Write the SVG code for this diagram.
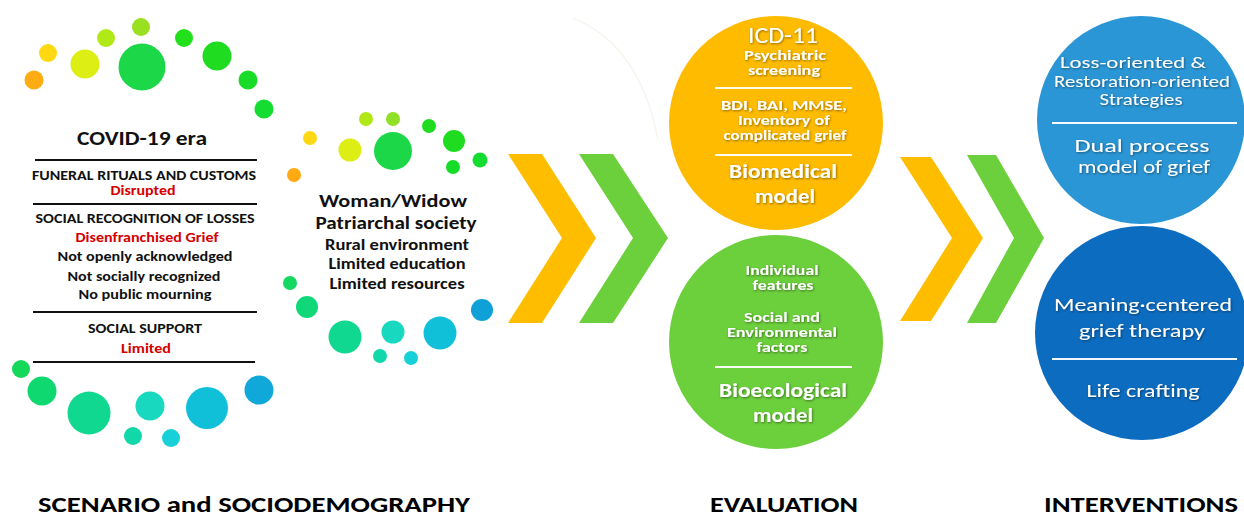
<svg xmlns="http://www.w3.org/2000/svg" width="1244" height="518" viewBox="0 0 1244 518">
  <defs>
    <filter id="txtShadow" x="-10%" y="-30%" width="120%" height="160%">
      <feDropShadow dx="0.8" dy="1" stdDeviation="0.8" flood-color="#000" flood-opacity="0.45"/>
    </filter>
  </defs>
  <style>
    text { font-family: Carlito, Lato, "Open Sans", "Liberation Sans", sans-serif; text-anchor: middle; }
    .dk { fill: #111; font-weight: 700; }
    .red { fill: #d40000; font-weight: 700; }
    .wt { fill: #fff; filter: url(#txtShadow); }
    .b { font-weight: 700; }
    .sm { font-size: 13.5px; }
    .rule { stroke: #111; stroke-width: 2; }
    .wrule { stroke: #fff; stroke-width: 2; opacity: 0.95; }
    .foot { fill: #000; font-weight: 700; font-size: 22px; }
  </style>
  <rect width="1244" height="518" fill="#fff"/>

  <!-- faint decorative arc -->
  <path d="M573,18 Q640,45 658,140" fill="none" stroke="#f6f2ea" stroke-width="1.2"/>

  <!-- scenario block: dot ring and text list -->
  <g id="scenario">
    <g id="scenario-dots-top">
      <circle cx="34" cy="80" r="9.5" fill="#ffab12"/>
      <circle cx="48" cy="53" r="9" fill="#ffd814"/>
      <circle cx="85" cy="64" r="14.5" fill="#dcee14"/>
      <circle cx="106" cy="38" r="9" fill="#b0e818"/>
      <circle cx="141" cy="27" r="9" fill="#98e020"/>
      <circle cx="142" cy="67" r="23.5" fill="#1cd848"/>
      <circle cx="184" cy="38" r="9" fill="#22e01c"/>
      <circle cx="217" cy="56" r="14.5" fill="#20dc20"/>
      <circle cx="248" cy="80" r="9.5" fill="#18dc28"/>
      <circle cx="264" cy="109" r="9.5" fill="#14dc30"/>
    </g>
    <g id="scenario-dots-bottom">
      <circle cx="21" cy="369" r="9" fill="#14d85a"/>
      <circle cx="42" cy="391" r="14.5" fill="#10d870"/>
      <circle cx="89" cy="413" r="21.5" fill="#10d890"/>
      <circle cx="133" cy="436" r="9" fill="#10d8a8"/>
      <circle cx="150" cy="406" r="14.5" fill="#18d8c0"/>
      <circle cx="171" cy="438" r="9" fill="#18d0d8"/>
      <circle cx="207" cy="408" r="21" fill="#10c0d8"/>
      <circle cx="259" cy="390" r="14.5" fill="#10a8d8"/>
    </g>
    <text class="dk" x="142" y="145" font-size="20" textLength="130" lengthAdjust="spacingAndGlyphs">COVID-19 era</text>
    <line class="rule" x1="35" y1="160" x2="257" y2="160"/>
    <text class="dk" x="144" y="180" font-size="13" textLength="224" lengthAdjust="spacingAndGlyphs">FUNERAL RITUALS AND CUSTOMS</text>
    <text class="red" x="143" y="195" font-size="13" textLength="65" lengthAdjust="spacingAndGlyphs">Disrupted</text>
    <line class="rule" x1="33" y1="204" x2="257" y2="204"/>
    <text class="dk" x="145" y="223" font-size="13" textLength="219" lengthAdjust="spacingAndGlyphs">SOCIAL RECOGNITION OF LOSSES</text>
    <text class="red" x="147" y="242" font-size="13.5" textLength="143" lengthAdjust="spacingAndGlyphs">Disenfranchised Grief</text>
    <text class="dk" x="145" y="261" font-size="13.5" textLength="175" lengthAdjust="spacingAndGlyphs">Not openly acknowledged</text>
    <text class="dk" x="144" y="281" font-size="13.5" textLength="153" lengthAdjust="spacingAndGlyphs">Not socially recognized</text>
    <text class="dk" x="145" y="299" font-size="13.5" textLength="133" lengthAdjust="spacingAndGlyphs">No public mourning</text>
    <line class="rule" x1="33" y1="312" x2="257" y2="312"/>
    <text class="dk" x="145" y="333" font-size="13" textLength="114" lengthAdjust="spacingAndGlyphs">SOCIAL SUPPORT</text>
    <text class="red" x="146" y="353" font-size="13.5" textLength="50" lengthAdjust="spacingAndGlyphs">Limited</text>
    <line class="rule" x1="33" y1="362" x2="255" y2="362"/>
  </g>

  <!-- sociodemographic block -->
  <g id="sociodemography">
    <g id="socio-dots-top">
      <circle cx="310" cy="138" r="7" fill="#ffd814"/>
      <circle cx="294" cy="175" r="7" fill="#ffaa12"/>
      <circle cx="350" cy="150" r="11.5" fill="#dcee14"/>
      <circle cx="366" cy="119" r="7" fill="#b0e818"/>
      <circle cx="393" cy="119" r="7" fill="#90e028"/>
      <circle cx="393" cy="151" r="19" fill="#1cd848"/>
      <circle cx="429" cy="126" r="7" fill="#20dc20"/>
      <circle cx="454" cy="141" r="11" fill="#20dc20"/>
      <circle cx="453" cy="167" r="7" fill="#14dc28"/>
      <circle cx="480" cy="160" r="7.5" fill="#14dc30"/>
    </g>
    <g id="socio-dots-bottom">
      <circle cx="290" cy="283" r="7" fill="#14d860"/>
      <circle cx="307" cy="307" r="11" fill="#10d878"/>
      <circle cx="345" cy="337" r="16.5" fill="#10d890"/>
      <circle cx="393" cy="332" r="11.5" fill="#18d8c0"/>
      <circle cx="380" cy="356" r="7" fill="#10d8a8"/>
      <circle cx="411" cy="358" r="7" fill="#18d0d8"/>
      <circle cx="440" cy="333" r="16.5" fill="#10c0d8"/>
      <circle cx="482" cy="310" r="11" fill="#10a0d8"/>
    </g>
    <text class="dk" x="393" y="207" font-size="18" textLength="148" lengthAdjust="spacingAndGlyphs">Woman/Widow</text>
    <text class="dk" x="396" y="229" font-size="18" textLength="161" lengthAdjust="spacingAndGlyphs">Patriarchal society</text>
    <text class="dk" x="397" y="250" font-size="16" textLength="144" lengthAdjust="spacingAndGlyphs">Rural environment</text>
    <text class="dk" x="397" y="269" font-size="16" textLength="137" lengthAdjust="spacingAndGlyphs">Limited education</text>
    <text class="dk" x="397" y="289" font-size="16" textLength="135" lengthAdjust="spacingAndGlyphs">Limited resources</text>
  </g>

  <!-- flow chevrons between stages -->
  <g id="connectors">
    <polygon points="508,154 542,154 596,238 542,323 508,323 562,238" fill="#ffbd00"/>
    <polygon points="579,154 613,154 668,238 613,323 579,323 633,238" fill="#6ccf3c"/>
    <polygon points="900,157 931,157 983,238 931,321 900,321 952,238" fill="#ffbd00"/>
    <polygon points="967,155 996,155 1044,238 996,323 967,323 1014,238" fill="#6ccf3c"/>
  </g>

  <!-- evaluation: biomedical model -->
  <g id="biomedical">
    <circle cx="776" cy="123" r="107" fill="#ffbb00"/>
    <text class="wt" x="783" y="43" font-size="23" textLength="70" lengthAdjust="spacingAndGlyphs">ICD-11</text>
    <text class="wt b sm" x="785" y="60" textLength="82" lengthAdjust="spacingAndGlyphs">Psychiatric</text>
    <text class="wt b sm" x="784" y="75" textLength="72" lengthAdjust="spacingAndGlyphs">screening</text>
    <line class="wrule" x1="715" y1="88" x2="852" y2="88"/>
    <text class="wt b sm" x="784" y="110" textLength="126" lengthAdjust="spacingAndGlyphs">BDI, BAI, MMSE,</text>
    <text class="wt b sm" x="784" y="125" textLength="92" lengthAdjust="spacingAndGlyphs">Inventory of</text>
    <text class="wt b sm" x="785" y="140" textLength="123" lengthAdjust="spacingAndGlyphs">complicated grief</text>
    <line class="wrule" x1="715" y1="155" x2="852" y2="155"/>
    <text class="wt b" x="783" y="178" font-size="20" textLength="108" lengthAdjust="spacingAndGlyphs">Biomedical</text>
    <text class="wt b" x="785" y="203" font-size="20" textLength="60" lengthAdjust="spacingAndGlyphs">model</text>
  </g>

  <!-- evaluation: bioecological model -->
  <g id="bioecological">
    <circle cx="776" cy="342" r="107" fill="#6ccf3c"/>
    <text class="wt b sm" x="782" y="275" textLength="73" lengthAdjust="spacingAndGlyphs">Individual</text>
    <text class="wt b sm" x="783" y="290" textLength="61" lengthAdjust="spacingAndGlyphs">features</text>
    <text class="wt b sm" x="782" y="322" textLength="76" lengthAdjust="spacingAndGlyphs">Social and</text>
    <text class="wt b sm" x="782" y="337" textLength="110" lengthAdjust="spacingAndGlyphs">Environmental</text>
    <text class="wt b sm" x="782" y="352" textLength="51" lengthAdjust="spacingAndGlyphs">factors</text>
    <line class="wrule" x1="715" y1="367" x2="852" y2="367"/>
    <text class="wt b" x="783" y="397" font-size="20" textLength="128" lengthAdjust="spacingAndGlyphs">Bioecological</text>
    <text class="wt b" x="783" y="422" font-size="20" textLength="60" lengthAdjust="spacingAndGlyphs">model</text>
  </g>

  <!-- interventions: dual process model -->
  <g id="dual-process">
    <circle cx="1141" cy="120" r="104" fill="#2b96d6"/>
    <text class="wt" x="1133" y="68" font-size="16" textLength="146" lengthAdjust="spacingAndGlyphs">Loss-oriented  &amp;</text>
    <text class="wt" x="1142" y="87" font-size="16" textLength="176" lengthAdjust="spacingAndGlyphs">Restoration-oriented</text>
    <text class="wt" x="1141" y="105" font-size="16" textLength="83" lengthAdjust="spacingAndGlyphs">Strategies</text>
    <line class="wrule" x1="1052" y1="123" x2="1237" y2="123"/>
    <text class="wt" x="1142" y="152" font-size="18.5" textLength="135" lengthAdjust="spacingAndGlyphs">Dual process</text>
    <text class="wt" x="1144" y="173" font-size="18.5" textLength="132" lengthAdjust="spacingAndGlyphs">model of grief</text>
  </g>

  <!-- interventions: meaning-centered therapy -->
  <g id="meaning-centered">
    <circle cx="1142" cy="333" r="107" fill="#0c6cc0"/>
    <text class="wt" x="1143" y="311" font-size="19" textLength="178" lengthAdjust="spacingAndGlyphs">Meaning·centered</text>
    <text class="wt" x="1142" y="337" font-size="19" textLength="126" lengthAdjust="spacingAndGlyphs">grief therapy</text>
    <line class="wrule" x1="1052" y1="359" x2="1237" y2="359"/>
    <text class="wt" x="1143" y="397" font-size="19" textLength="113" lengthAdjust="spacingAndGlyphs">Life crafting</text>
  </g>

  <!-- stage captions -->
  <g id="captions">
    <text class="foot" x="254" y="512" textLength="432" lengthAdjust="spacingAndGlyphs">SCENARIO and SOCIODEMOGRAPHY</text>
    <text class="foot" x="784" y="512" textLength="148" lengthAdjust="spacingAndGlyphs">EVALUATION</text>
    <text class="foot" x="1141" y="512" textLength="194" lengthAdjust="spacingAndGlyphs">INTERVENTIONS</text>
  </g>
</svg>
